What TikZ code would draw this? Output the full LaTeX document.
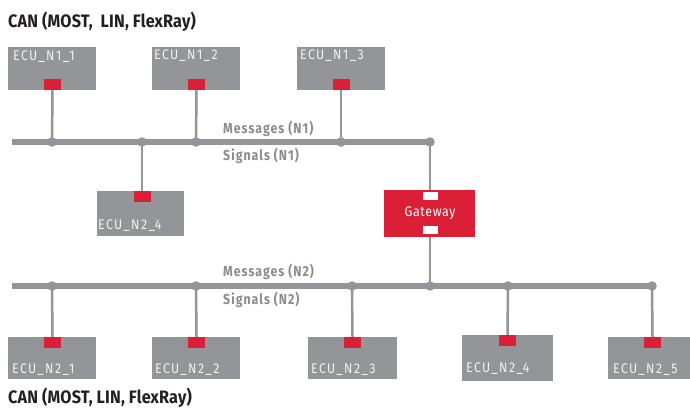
\documentclass[tikz,border=0pt]{standalone}
\usepackage{fontspec}
\setmainfont[FakeStretch=0.88]{Fira Sans}
\newfontfamily\ecufont[FakeStretch=0.88,LetterSpace=10]{Fira Sans}
\newfontfamily\gwfont[FakeStretch=0.88,LetterSpace=5]{Fira Sans}
\newfontfamily\labfont[FakeStretch=0.85,LetterSpace=7]{Fira Sans}
\newfontfamily\titfont[FakeStretch=0.9,LetterSpace=1]{Fira Sans}
\definecolor{ecugrey}{HTML}{939598}
\definecolor{gwred}{HTML}{DA1F37}
\definecolor{titletext}{HTML}{231F20}
\definecolor{labeltext}{HTML}{8C8C8E}
\definecolor{ecutext}{HTML}{F2F2F2}
\tikzset{
  ecubox/.style={fill=ecugrey, draw=none, inner sep=0pt, anchor=north west},
  gwbox/.style={fill=gwred, draw=none, inner sep=0pt, anchor=north west},
  port/.style={fill=gwred, draw=none, inner sep=0pt, minimum width=17pt, minimum height=11pt},
  gwport/.style={fill=white, draw=none, inner sep=0pt, minimum width=15pt, minimum height=8pt},
  ecutxt/.style={text=ecutext, font=\ecufont\fontsize{14}{14}\selectfont, inner sep=0pt},
  buslabel/.style={text=labeltext, font=\labfont\fontsize{14.5}{14.5}\selectfont\bfseries, inner sep=0pt, anchor=west},
  titlelabel/.style={text=titletext, font=\titfont\fontsize{18}{18}\selectfont\bfseries, inner sep=0pt, anchor=west},
  busline/.style={draw=ecugrey, line width=5.5pt},
  conn/.style={draw=ecugrey, line width=2.5pt},
  busdot/.style={circle, fill=ecugrey, draw=none, inner sep=0pt, minimum size=9.5pt},
}
\begin{document}
\begin{tikzpicture}[x=1pt,y=-1pt]
\useasboundingbox (0,0) rectangle (690,410);

% titles
\node[titlelabel] (ttop) at (8,22) {CAN (MOST,\ \ LIN, FlexRay)};
\node[titlelabel] (tbot) at (8,398) {CAN (MOST, LIN, FlexRay)};

% bus N1
\coordinate (b1w) at (12,142);
\node[busdot] (d11) at (52,142) {};
\node[busdot] (d24u) at (142,142) {};
\node[busdot] (d12) at (196,142) {};
\node[busdot] (d13) at (341,142) {};
\node[busdot] (dg1) at (430,142) {};
\draw[busline] (b1w) -- (dg1.center);

% bus N2
\coordinate (b2w) at (12,286);
\node[busdot] (d21) at (52,286) {};
\node[busdot] (d22) at (196,286) {};
\node[busdot] (d23) at (352,286) {};
\node[busdot] (dg2) at (430,286) {};
\node[busdot] (d24) at (508,286) {};
\node[busdot] (d25) at (652,286) {};
\draw[busline] (b2w) -- (d25.center);

% bus labels
\node[buslabel] (m1) at (223,129) {Messages (N1)};
\node[buslabel] (s1) at (223,156) {Signals (N1)};
\node[buslabel] (m2) at (223,272) {Messages (N2)};
\node[buslabel] (s2) at (223,300) {Signals (N2)};

% top ECUs
\node[ecubox, minimum width=88pt, minimum height=43pt] (n11) at (8,47) {};
\node[ecubox, minimum width=88pt, minimum height=43pt] (n12) at (152,47) {};
\node[ecubox, minimum width=88pt, minimum height=43pt] (n13) at (297,47) {};
\node[ecutxt, anchor=north west] (t11) at (13,50) {ECU\_N1\_1};
\node[ecutxt, anchor=north west] (t12) at (154,49) {ECU\_N1\_2};
\node[ecutxt, anchor=north west] (t13) at (300,49) {ECU\_N1\_3};
\node[port] (p11) at (52.5,84.5) {};
\node[port] (p12) at (196.5,84.5) {};
\node[port] (p13) at (341,84.5) {};
\draw[conn] (p11.south) -- (d11.center);
\draw[conn] (p12.south) -- (d12.center);
\draw[conn] (p13.south) -- (d13.center);

% ECU_N2_4 (upper)
\node[ecubox, minimum width=87pt, minimum height=45pt] (n24u) at (97,191) {};
\node[ecutxt, anchor=south west] (t24u) at (98,232) {ECU\_N2\_4};
\node[port] (p24u) at (142,196.5) {};
\draw[conn] (d24u.center) -- (p24u.north);

% Gateway
\node[gwbox, minimum width=91pt, minimum height=47pt] (gw) at (384,190) {};
\node[text=white, font=\gwfont\fontsize{14}{14}\selectfont, inner sep=0pt] (gwt) at (430,213) {Gateway};
\node[gwport] (gp1) at (430.5,196) {};
\node[gwport] (gp2) at (430.5,230) {};
\draw[conn] (dg1.center) -- (gw.north -| dg1);
\draw[conn] (gw.south -| dg2) -- (dg2.center);

% bottom ECUs
\node[ecubox, minimum width=88pt, minimum height=42pt] (n21) at (8,337) {};
\node[ecubox, minimum width=88pt, minimum height=42pt] (n22) at (152,337) {};
\node[ecubox, minimum width=89pt, minimum height=42pt] (n23) at (308,337) {};
\node[ecubox, minimum width=91pt, minimum height=46pt] (n24) at (462,335) {};
\node[ecubox, minimum width=82pt, minimum height=42pt] (n25) at (608,337) {};
\node[ecutxt, anchor=south west] (t21) at (12,376) {ECU\_N2\_1};
\node[ecutxt, anchor=south west] (t22) at (155,376) {ECU\_N2\_2};
\node[ecutxt, anchor=south west] (t23) at (311,376) {ECU\_N2\_3};
\node[ecutxt, anchor=south west] (t24) at (466,375) {ECU\_N2\_4};
\node[ecutxt, anchor=south west] (t25) at (613,376) {ECU\_N2\_5};
\node[port] (p21) at (52.5,342.5) {};
\node[port] (p22) at (196.5,342.5) {};
\node[port] (p23) at (352.5,342.5) {};
\node[port] (p24) at (507.5,340.5) {};
\node[port] (p25) at (652.5,342.5) {};
\draw[conn] (d21.center) -- (p21.north);
\draw[conn] (d22.center) -- (p22.north);
\draw[conn] (d23.center) -- (p23.north);
\draw[conn] (d24.center) -- (p24.north);
\draw[conn] (d25.center) -- (p25.north);
\end{tikzpicture}
\end{document}
